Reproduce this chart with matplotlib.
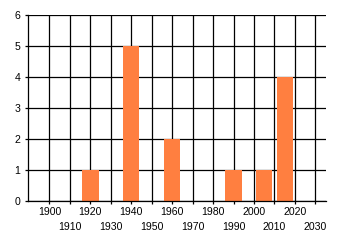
import matplotlib
matplotlib.use('Agg')
import matplotlib.pyplot as plt

# data
years = [1920, 1940, 1960, 1990, 2005, 2015]
counts = [1, 5, 2, 1, 1, 4]
upper_decades = [1900, 1920, 1940, 1960, 1980, 2000, 2020]
lower_decades = [1910, 1930, 1950, 1970, 1990, 2010, 2030]
yticks = [0, 1, 2, 3, 4, 5, 6]

barcolor = '#ff7f40'
lw = 0.9

plt.rcParams['font.family'] = ['Liberation Sans', 'DejaVu Sans']

fig = plt.figure(figsize=(3.4, 2.45), dpi=100)
ax = fig.add_axes([28/340, 1 - 201/245, (326-28)/340, (201-15)/245])

ax.bar(years, counts, width=8, color=barcolor, zorder=3)

ax.set_xlim(1889.5, 2035.2)
ax.set_ylim(0, 6)

# staggered decade labels: odd decades sit on a second row
ax.set_xticks(upper_decades)
ax.set_xticklabels([str(d) for d in upper_decades], fontsize=7.6)
ax.set_xticks(lower_decades, minor=True)
ax.set_xticklabels([str(d) for d in lower_decades], minor=True, fontsize=7.6)
ax.set_yticks(yticks)
ax.tick_params(axis='y', labelsize=7.6, length=2.5, width=lw, pad=3)
ax.tick_params(axis='x', which='major', length=2.5, width=lw, pad=1.5)
ax.tick_params(axis='x', which='minor', length=2.5, width=lw, pad=12.5)

ax.grid(True, which='both', color='black', linewidth=lw, zorder=1)
ax.set_axisbelow(True)
for s in ['top', 'right']:
    ax.spines[s].set_visible(False)
for s in ['left', 'bottom']:
    ax.spines[s].set_linewidth(lw)
    ax.spines[s].set_zorder(4)

fig.savefig('out.png', dpi=100)
